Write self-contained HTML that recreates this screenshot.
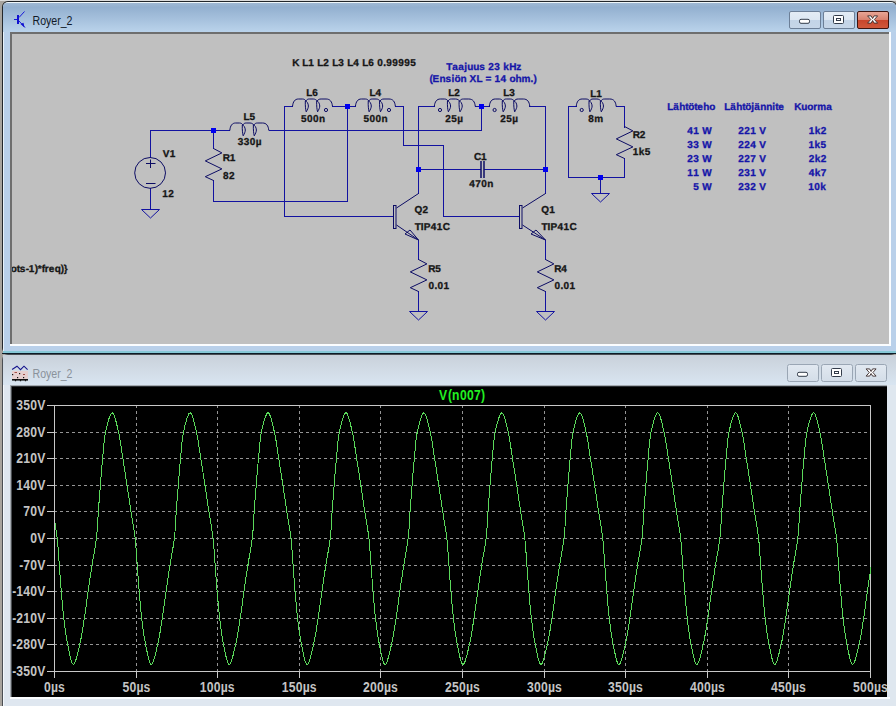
<!DOCTYPE html>
<html><head><meta charset="utf-8"><style>html,body{margin:0;padding:0;background:#a8a49e;}svg{display:block;}</style></head>
<body><svg width="896" height="706" viewBox="0 0 896 706">

<defs>
 <linearGradient id="tg1" gradientUnits="userSpaceOnUse" x1="0" y1="3" x2="0" y2="32">
  <stop offset="0" stop-color="#9fb8d4"/>
  <stop offset="0.15" stop-color="#93b0d0"/>
  <stop offset="1" stop-color="#bad3eb"/>
 </linearGradient>
 <linearGradient id="tg2" gradientUnits="userSpaceOnUse" x1="0" y1="355" x2="0" y2="385">
  <stop offset="0" stop-color="#c9d1da"/>
  <stop offset="1" stop-color="#d9e5f1"/>
 </linearGradient>
 <linearGradient id="bgrad" x1="0" y1="0" x2="0" y2="1">
  <stop offset="0" stop-color="#e4ecf5"/>
  <stop offset="0.5" stop-color="#dce7f2"/>
  <stop offset="0.5" stop-color="#c3d4e7"/>
  <stop offset="1" stop-color="#c6d6e8"/>
 </linearGradient>
 <linearGradient id="cgrad" x1="0" y1="0" x2="0" y2="1">
  <stop offset="0" stop-color="#e9a798"/>
  <stop offset="0.5" stop-color="#d8806d"/>
  <stop offset="0.5" stop-color="#c8442b"/>
  <stop offset="1" stop-color="#d0593c"/>
 </linearGradient>
 <linearGradient id="bgrad2" x1="0" y1="0" x2="0" y2="1">
  <stop offset="0" stop-color="#e2e9f1"/>
  <stop offset="1" stop-color="#d3dde8"/>
 </linearGradient>
</defs>
<rect x="0" y="0" width="896" height="706" fill="#a8a49e"/><rect x="0" y="0" width="896" height="1" fill="#dcdcdc"/>
<!-- top window -->
<rect x="2" y="1" width="895" height="353" rx="6" fill="#23272c"/>
<rect x="3" y="2" width="893" height="351" rx="5" fill="#eef6fa"/>
<rect x="3" y="3" width="893" height="350" rx="4" fill="url(#tg1)"/>
<rect x="3" y="32" width="893" height="321" fill="#b9d0ea"/>
<rect x="10" y="32" width="881" height="314" fill="#fbfdff"/>
<rect x="10" y="32" width="879" height="312" fill="#6e6e6e"/>
<rect x="12" y="34" width="877" height="310" fill="#c0c0c0"/>
<rect x="3" y="32" width="1" height="320" fill="#e8f2fa"/>
<rect x="3" y="351" width="893" height="2" fill="#86c8d6"/>
<rect x="2" y="353" width="894" height="1" fill="#0d1b26"/>
<!-- bottom window -->
<rect x="2" y="354" width="895" height="360" rx="6" fill="#4a4e53"/>
<rect x="3" y="355" width="893" height="360" rx="5" fill="#dfe7ef"/>
<rect x="3" y="355" width="900" height="30" fill="url(#tg2)"/>
<rect x="3" y="385" width="884" height="321" fill="#dfe7f0"/>
<rect x="10" y="385" width="877" height="312" fill="#a4aab0"/>
<rect x="11" y="386" width="876" height="311" fill="#4a4e52"/>
<rect x="12" y="386" width="875" height="311" fill="#2a2e32"/>
<rect x="12" y="387" width="875" height="310" fill="#000"/>
<rect x="3" y="385" width="1" height="321" fill="#f4f8fc"/>
<rect x="10" y="697" width="880" height="2" fill="#fbfdff"/>
<text x="32.5" y="25" font-family="Liberation Sans" font-size="12" fill="#111a28" textLength="40" lengthAdjust="spacingAndGlyphs">Royer_2</text><text x="32.5" y="378" font-family="Liberation Sans" font-size="12" fill="#8a929b" textLength="40" lengthAdjust="spacingAndGlyphs">Royer_2</text><g><path d="M14,19.5H17" stroke="#1818d8" stroke-width="1"/><rect x="17" y="15" width="2" height="9" fill="#1010d0"/><path d="M19,17.5 L24.5,11.5" stroke="#1818d8" stroke-width="1"/><path d="M19,21 L25,27.5" stroke="#1818d8" stroke-width="1"/><path d="M20.5,24 L24.5,27.5 L23.5,22.8 Z" fill="#1010d0"/></g><g><rect x="12" y="371" width="16" height="8" fill="#e6cfcf"/><path d="M12.1,369.5 L17,366.2 L20.5,369.7 L24,366.2 L27.6,369.7" stroke="#14148c" stroke-width="1.1" fill="none"/><path d="M14.5,372.5h2.5M23,374.5h2" stroke="#a0504a" stroke-width="1"/><g fill="#111"><rect x="12" y="374" width="1.2" height="1.2"/><rect x="17" y="377" width="1.2" height="1.2"/><rect x="23" y="377" width="1.2" height="1.2"/><rect x="19" y="373" width="1.2" height="1.2"/></g><rect x="12" y="379" width="16" height="1.6" fill="#111"/><path d="M15.5,380v1.2M20.5,380v1.2M25.5,380v1.2" stroke="#111" stroke-width="1.2"/></g><rect x="789.5" y="11.5" width="31" height="17" rx="1.5" fill="url(#bgrad)" stroke="#6c7f97"/><rect x="823.5" y="11.5" width="31" height="17" rx="1.5" fill="url(#bgrad)" stroke="#6c7f97"/><rect x="857.5" y="11.5" width="31" height="17" rx="1.5" fill="url(#cgrad)" stroke="#3d1410"/><rect x="787.5" y="364.5" width="31" height="17" rx="2" fill="url(#bgrad2)" stroke="#9aa6b4"/><rect x="821.5" y="364.5" width="31" height="17" rx="2" fill="url(#bgrad2)" stroke="#9aa6b4"/><rect x="855.5" y="364.5" width="31" height="17" rx="2" fill="url(#bgrad2)" stroke="#9aa6b4"/><rect x="799.5" y="19.3" width="10" height="4" rx="1.5" fill="#fff" stroke="#333c4a"/><rect x="833.5" y="15.5" width="10" height="8" rx="1" fill="#fff" stroke="#333c4a"/><rect x="836.5" y="18.5" width="4" height="2" fill="#fff" stroke="#333c4a"/><polygon points="867.60,15.90 871.10,15.90 872.60,18.50 874.10,15.90 877.60,15.90 874.40,19.50 877.60,23.10 874.10,23.10 872.60,20.50 871.10,23.10 867.60,23.10 870.80,19.50" fill="#fff" stroke="#3a2a2a" stroke-width="0.9" stroke-linejoin="miter"/><rect x="797.5" y="372.3" width="10" height="4" rx="1.5" fill="#fff" stroke="#333c4a"/><rect x="831.5" y="368.5" width="10" height="8" rx="1" fill="#fff" stroke="#333c4a"/><rect x="834.5" y="371.5" width="4" height="2" fill="#fff" stroke="#333c4a"/><polygon points="866.10,368.90 869.60,368.90 871.10,371.50 872.60,368.90 876.10,368.90 872.90,372.50 876.10,376.10 872.60,376.10 871.10,373.50 869.60,376.10 866.10,376.10 869.30,372.50" fill="#fff" stroke="#3a2a2a" stroke-width="0.9" stroke-linejoin="miter"/><svg x="12" y="34" width="877" height="310" viewBox="12 34 877 310" overflow="hidden"><g font-family="Liberation Sans" font-weight="bold" text-rendering="geometricPrecision"><line x1="150.5" y1="130" x2="150.5" y2="158" stroke="#1212a0" stroke-width="1"/><line x1="150.5" y1="188" x2="150.5" y2="210" stroke="#1212a0" stroke-width="1"/><line x1="150" y1="130.5" x2="230" y2="130.5" stroke="#1212a0" stroke-width="1"/><line x1="213.5" y1="130" x2="213.5" y2="149" stroke="#1212a0" stroke-width="1"/><line x1="213.5" y1="180" x2="213.5" y2="201" stroke="#1212a0" stroke-width="1"/><line x1="269" y1="130.5" x2="482" y2="130.5" stroke="#1212a0" stroke-width="1"/><line x1="213" y1="201.5" x2="348" y2="201.5" stroke="#1212a0" stroke-width="1"/><line x1="347.5" y1="106" x2="347.5" y2="201" stroke="#1212a0" stroke-width="1"/><line x1="284.5" y1="106" x2="284.5" y2="217" stroke="#1212a0" stroke-width="1"/><line x1="284" y1="106.5" x2="293" y2="106.5" stroke="#1212a0" stroke-width="1"/><line x1="284" y1="216.5" x2="394" y2="216.5" stroke="#1212a0" stroke-width="1"/><line x1="332" y1="106.5" x2="356" y2="106.5" stroke="#1212a0" stroke-width="1"/><line x1="395" y1="106.5" x2="404" y2="106.5" stroke="#1212a0" stroke-width="1"/><line x1="403.5" y1="106" x2="403.5" y2="145" stroke="#1212a0" stroke-width="1"/><line x1="403" y1="145.5" x2="444" y2="145.5" stroke="#1212a0" stroke-width="1"/><line x1="443.5" y1="145" x2="443.5" y2="217" stroke="#1212a0" stroke-width="1"/><line x1="443" y1="216.5" x2="520" y2="216.5" stroke="#1212a0" stroke-width="1"/><line x1="418.5" y1="106" x2="418.5" y2="194" stroke="#1212a0" stroke-width="1"/><line x1="418" y1="106.5" x2="435" y2="106.5" stroke="#1212a0" stroke-width="1"/><line x1="475" y1="106.5" x2="490" y2="106.5" stroke="#1212a0" stroke-width="1"/><line x1="481.5" y1="106" x2="481.5" y2="131" stroke="#1212a0" stroke-width="1"/><line x1="529" y1="106.5" x2="546" y2="106.5" stroke="#1212a0" stroke-width="1"/><line x1="545.5" y1="106" x2="545.5" y2="194" stroke="#1212a0" stroke-width="1"/><line x1="418" y1="169.5" x2="481" y2="169.5" stroke="#1212a0" stroke-width="1"/><line x1="484" y1="169.5" x2="546" y2="169.5" stroke="#1212a0" stroke-width="1"/><line x1="481" y1="161" x2="481" y2="178" stroke="#0c0c64" stroke-width="1.5"/><line x1="484" y1="161" x2="484" y2="178" stroke="#0c0c64" stroke-width="1.5"/><line x1="418.5" y1="240" x2="418.5" y2="260" stroke="#1212a0" stroke-width="1"/><line x1="418.5" y1="291" x2="418.5" y2="312" stroke="#1212a0" stroke-width="1"/><line x1="545.5" y1="240" x2="545.5" y2="260" stroke="#1212a0" stroke-width="1"/><line x1="545.5" y1="291" x2="545.5" y2="312" stroke="#1212a0" stroke-width="1"/><line x1="568.5" y1="106" x2="568.5" y2="178" stroke="#1212a0" stroke-width="1"/><line x1="568" y1="177.5" x2="625" y2="177.5" stroke="#1212a0" stroke-width="1"/><line x1="624.5" y1="106" x2="624.5" y2="128" stroke="#1212a0" stroke-width="1"/><line x1="624.5" y1="158" x2="624.5" y2="178" stroke="#1212a0" stroke-width="1"/><line x1="568" y1="106.5" x2="577" y2="106.5" stroke="#1212a0" stroke-width="1"/><line x1="616" y1="106.5" x2="625" y2="106.5" stroke="#1212a0" stroke-width="1"/><line x1="600.5" y1="177" x2="600.5" y2="194" stroke="#1212a0" stroke-width="1"/><circle cx="150.1" cy="172.9" r="15.4" fill="none" stroke="#0c0c64" stroke-width="1"/><line x1="146" y1="163.5" x2="155.5" y2="163.5" stroke="#0c0c64" stroke-width="1"/><line x1="150.5" y1="159.5" x2="150.5" y2="168" stroke="#0c0c64" stroke-width="1"/><line x1="146" y1="183.5" x2="155.5" y2="183.5" stroke="#0c0c64" stroke-width="1"/><path d="M141.5,209.5 H159.5 L150.5,218 Z" fill="none" stroke="#1212a0" stroke-width="1"/><polyline fill="none" stroke="#0c0c64" stroke-width="1" points="213.5,148.5 221.9,152.9 205.3,160.9 221.9,168.9 205.3,176.7 213.5,180.5"/><path d="M229.80,130.50 C230.28,125.50 232.21,123.00 235.58,123.00 L239.43,123.00 C241.36,123.00 242.32,124.00 242.80,125.00 M242.80,125.00 C243.76,123.50 244.73,123.00 246.17,123.00 L250.02,123.00 C251.95,123.00 252.91,124.00 253.87,125.00 M253.87,125.00 C254.84,123.50 255.80,123.00 257.73,123.00 L262.54,123.00 C266.39,123.00 268.32,125.50 268.80,130.50" fill="none" stroke="#0c0c64" stroke-width="1"/><path d="M242.32,125.00 C242.13,129.50 242.51,133.50 243.19,135.80 C244.24,134.00 245.40,131.50 245.30,130.00 C245.21,127.50 243.76,125.00 242.32,125.00 Z" fill="none" stroke="#0c0c64" stroke-width="1"/><path d="M253.39,125.00 C253.20,129.50 253.59,133.50 254.26,135.80 C255.32,134.00 256.47,131.50 256.38,130.00 C256.28,127.50 254.84,125.00 253.39,125.00 Z" fill="none" stroke="#0c0c64" stroke-width="1"/><path d="M292.50,106.50 C292.99,101.50 294.97,99.00 298.43,99.00 L302.38,99.00 C304.35,99.00 305.34,100.00 305.83,101.00 M305.83,101.00 C306.82,99.50 307.81,99.00 309.29,99.00 L313.24,99.00 C315.22,99.00 316.20,100.00 317.19,101.00 M317.19,101.00 C318.18,99.50 319.17,99.00 321.14,99.00 L326.08,99.00 C330.03,99.00 332.01,101.50 332.50,106.50" fill="none" stroke="#0c0c64" stroke-width="1"/><path d="M305.34,101.00 C305.14,105.50 305.54,109.50 306.23,111.80 C307.31,110.00 308.50,107.50 308.40,106.00 C308.30,103.50 306.82,101.00 305.34,101.00 Z" fill="none" stroke="#0c0c64" stroke-width="1"/><path d="M316.70,101.00 C316.50,105.50 316.90,109.50 317.59,111.80 C318.67,110.00 319.86,107.50 319.76,106.00 C319.66,103.50 318.18,101.00 316.70,101.00 Z" fill="none" stroke="#0c0c64" stroke-width="1"/><circle cx="326.0" cy="110.0" r="1.6" fill="none" stroke="#0c0c64" stroke-width="1"/><path d="M355.40,106.50 C355.89,101.50 357.87,99.00 361.33,99.00 L365.28,99.00 C367.25,99.00 368.24,100.00 368.73,101.00 M368.73,101.00 C369.72,99.50 370.71,99.00 372.19,99.00 L376.14,99.00 C378.12,99.00 379.10,100.00 380.09,101.00 M380.09,101.00 C381.08,99.50 382.07,99.00 384.04,99.00 L388.98,99.00 C392.93,99.00 394.91,101.50 395.40,106.50" fill="none" stroke="#0c0c64" stroke-width="1"/><path d="M368.24,101.00 C368.04,105.50 368.44,109.50 369.13,111.80 C370.21,110.00 371.40,107.50 371.30,106.00 C371.20,103.50 369.72,101.00 368.24,101.00 Z" fill="none" stroke="#0c0c64" stroke-width="1"/><path d="M379.60,101.00 C379.40,105.50 379.80,109.50 380.49,111.80 C381.57,110.00 382.76,107.50 382.66,106.00 C382.56,103.50 381.08,101.00 379.60,101.00 Z" fill="none" stroke="#0c0c64" stroke-width="1"/><circle cx="389.0" cy="110.0" r="1.6" fill="none" stroke="#0c0c64" stroke-width="1"/><path d="M434.30,106.50 C434.81,101.50 436.83,99.00 440.37,99.00 L444.42,99.00 C446.45,99.00 447.46,100.00 447.97,101.00 M447.97,101.00 C448.98,99.50 449.99,99.00 451.51,99.00 L455.56,99.00 C457.58,99.00 458.60,100.00 459.61,101.00 M459.61,101.00 C460.62,99.50 461.63,99.00 463.66,99.00 L468.72,99.00 C472.77,99.00 474.79,101.50 475.30,106.50" fill="none" stroke="#0c0c64" stroke-width="1"/><path d="M447.46,101.00 C447.26,105.50 447.66,109.50 448.37,111.80 C449.49,110.00 450.70,107.50 450.60,106.00 C450.50,103.50 448.98,101.00 447.46,101.00 Z" fill="none" stroke="#0c0c64" stroke-width="1"/><path d="M459.10,101.00 C458.90,105.50 459.30,109.50 460.01,111.80 C461.13,110.00 462.34,107.50 462.24,106.00 C462.14,103.50 460.62,101.00 459.10,101.00 Z" fill="none" stroke="#0c0c64" stroke-width="1"/><circle cx="440.0" cy="110.0" r="1.6" fill="none" stroke="#0c0c64" stroke-width="1"/><path d="M489.30,106.50 C489.80,101.50 491.80,99.00 495.30,99.00 L499.30,99.00 C501.30,99.00 502.30,100.00 502.80,101.00 M502.80,101.00 C503.80,99.50 504.80,99.00 506.30,99.00 L510.30,99.00 C512.30,99.00 513.30,100.00 514.30,101.00 M514.30,101.00 C515.30,99.50 516.30,99.00 518.30,99.00 L523.30,99.00 C527.30,99.00 529.30,101.50 529.80,106.50" fill="none" stroke="#0c0c64" stroke-width="1"/><path d="M502.30,101.00 C502.10,105.50 502.50,109.50 503.20,111.80 C504.30,110.00 505.50,107.50 505.40,106.00 C505.30,103.50 503.80,101.00 502.30,101.00 Z" fill="none" stroke="#0c0c64" stroke-width="1"/><path d="M513.80,101.00 C513.60,105.50 514.00,109.50 514.70,111.80 C515.80,110.00 517.00,107.50 516.90,106.00 C516.80,103.50 515.30,101.00 513.80,101.00 Z" fill="none" stroke="#0c0c64" stroke-width="1"/><circle cx="494.6" cy="110.0" r="1.6" fill="none" stroke="#0c0c64" stroke-width="1"/><path d="M576.20,106.50 C576.69,101.50 578.67,99.00 582.13,99.00 L586.08,99.00 C588.05,99.00 589.04,100.00 589.53,101.00 M589.53,101.00 C590.52,99.50 591.51,99.00 592.99,99.00 L596.94,99.00 C598.92,99.00 599.90,100.00 600.89,101.00 M600.89,101.00 C601.88,99.50 602.87,99.00 604.84,99.00 L609.78,99.00 C613.73,99.00 615.71,101.50 616.20,106.50" fill="none" stroke="#0c0c64" stroke-width="1"/><path d="M589.04,101.00 C588.84,105.50 589.24,109.50 589.93,111.80 C591.01,110.00 592.20,107.50 592.10,106.00 C592.00,103.50 590.52,101.00 589.04,101.00 Z" fill="none" stroke="#0c0c64" stroke-width="1"/><path d="M600.40,101.00 C600.20,105.50 600.60,109.50 601.29,111.80 C602.37,110.00 603.56,107.50 603.46,106.00 C603.36,103.50 601.88,101.00 600.40,101.00 Z" fill="none" stroke="#0c0c64" stroke-width="1"/><circle cx="581.7" cy="110.0" r="1.6" fill="none" stroke="#0c0c64" stroke-width="1"/><rect x="393.5" y="205.5" width="2.5" height="23" fill="none" stroke="#0c0c64" stroke-width="1"/><line x1="396.5" y1="208" x2="418.5" y2="193.5" stroke="#0c0c64" stroke-width="1"/><line x1="396.5" y1="225" x2="418.5" y2="240" stroke="#0c0c64" stroke-width="1"/><path d="M418.5,240 L405,234 L410,230 Z" fill="none" stroke="#0c0c64" stroke-width="1"/><line x1="393" y1="216.5" x2="393" y2="216.5" stroke="#1212a0" stroke-width="1"/><rect x="519.5" y="205.5" width="2.5" height="23" fill="none" stroke="#0c0c64" stroke-width="1"/><line x1="522.5" y1="208" x2="545.5" y2="193.5" stroke="#0c0c64" stroke-width="1"/><line x1="522.5" y1="225" x2="545.5" y2="240" stroke="#0c0c64" stroke-width="1"/><path d="M545.5,240 L531,234 L536,230 Z" fill="none" stroke="#0c0c64" stroke-width="1"/><line x1="519" y1="216.5" x2="519" y2="216.5" stroke="#1212a0" stroke-width="1"/><polyline fill="none" stroke="#0c0c64" stroke-width="1" points="418.5,259.5 426.9,263.9 410.3,271.9 426.9,279.9 410.3,287.7 418.5,291.5"/><polyline fill="none" stroke="#0c0c64" stroke-width="1" points="545.5,259.5 553.9,263.9 537.3,271.9 553.9,279.9 537.3,287.7 545.5,291.5"/><polyline fill="none" stroke="#0c0c64" stroke-width="1" points="624.5,126.5 632.9,130.9 616.3,138.9 632.9,146.9 616.3,154.7 624.5,158.5"/><path d="M409.5,311.5 H427.5 L418.5,320 Z" fill="none" stroke="#1212a0" stroke-width="1"/><path d="M536.5,311.5 H554.5 L545.5,320 Z" fill="none" stroke="#1212a0" stroke-width="1"/><path d="M591.5,193.5 H609.5 L600.5,202 Z" fill="none" stroke="#1212a0" stroke-width="1"/><rect x="211" y="128" width="5" height="5" fill="#0000f0"/><rect x="345" y="104" width="5" height="5" fill="#0000f0"/><rect x="479" y="104" width="5" height="5" fill="#0000f0"/><rect x="416" y="167" width="5" height="5" fill="#0000f0"/><rect x="543" y="167" width="5" height="5" fill="#0000f0"/><rect x="598" y="175" width="5" height="5" fill="#0000f0"/><text x="292.23 299.23 302.23 308.23 314.23 317.23 323.23 329.23 332.23 338.23 344.23 347.23 353.23 359.23 362.23 368.23 374.23 377.23 383.23 386.23 392.23 398.23 404.23 410.23" y="66" fill="#151515" stroke="#151515" stroke-width="0.3" font-size="10.0">K L1 L2 L3 L4 L6 0.99995</text><text x="306.23 312.23" y="95.5" fill="#151515" stroke="#151515" stroke-width="0.3" font-size="10.0">L6</text><text x="300.99 306.99 312.99 318.99" y="121.5" fill="#151515" stroke="#151515" stroke-width="0.3" font-size="10.0">500n</text><text x="369.43 375.43" y="95.5" fill="#151515" stroke="#151515" stroke-width="0.3" font-size="10.0">L4</text><text x="363.59 369.59 375.59 381.59" y="121.5" fill="#151515" stroke="#151515" stroke-width="0.3" font-size="10.0">500n</text><text x="448.23 454.23" y="95.5" fill="#151515" stroke="#151515" stroke-width="0.3" font-size="10.0">L2</text><text x="445.25 451.25 457.25" y="121.5" fill="#151515" stroke="#151515" stroke-width="0.3" font-size="10.0">25µ</text><text x="503.23 509.23" y="95.5" fill="#151515" stroke="#151515" stroke-width="0.3" font-size="10.0">L3</text><text x="500.25 506.25 512.25" y="121.5" fill="#151515" stroke="#151515" stroke-width="0.3" font-size="10.0">25µ</text><text x="243.43 249.43" y="119.6" fill="#151515" stroke="#151515" stroke-width="0.3" font-size="10.0">L5</text><text x="237.87 243.87 249.87 255.87" y="144.5" fill="#151515" stroke="#151515" stroke-width="0.3" font-size="10.0">330µ</text><text x="162.83 169.83" y="156.5" fill="#151515" stroke="#151515" stroke-width="0.3" font-size="10.0">V1</text><text x="162.27 168.27" y="196.6" fill="#151515" stroke="#151515" stroke-width="0.3" font-size="10.0">12</text><text x="222.73 229.73" y="160.7" fill="#151515" stroke="#151515" stroke-width="0.3" font-size="10.0">R1</text><text x="223.08 229.08" y="179" fill="#151515" stroke="#151515" stroke-width="0.3" font-size="10.0">82</text><text x="473.99 480.99" y="159.5" fill="#151515" stroke="#151515" stroke-width="0.3" font-size="10.0">C1</text><text x="469.25 475.25 481.25 487.25" y="187" fill="#151515" stroke="#151515" stroke-width="0.3" font-size="10.0">470n</text><text x="414.49 422.49" y="213.3" fill="#151515" stroke="#151515" stroke-width="0.3" font-size="10.0">Q2</text><text x="414.79 420.79 423.79 430.79 436.79 442.79" y="230" fill="#151515" stroke="#151515" stroke-width="0.3" font-size="10.0">TIP41C</text><text x="541.19 549.19" y="213.3" fill="#151515" stroke="#151515" stroke-width="0.3" font-size="10.0">Q1</text><text x="541.49 547.49 550.49 557.49 563.49 569.49" y="230" fill="#151515" stroke="#151515" stroke-width="0.3" font-size="10.0">TIP41C</text><text x="428.23 435.23" y="272" fill="#151515" stroke="#151515" stroke-width="0.3" font-size="10.0">R5</text><text x="428.50 434.50 437.50 443.50" y="288.5" fill="#151515" stroke="#151515" stroke-width="0.3" font-size="10.0">0.01</text><text x="554.23 561.23" y="272" fill="#151515" stroke="#151515" stroke-width="0.3" font-size="10.0">R4</text><text x="554.50 560.50 563.50 569.50" y="288.5" fill="#151515" stroke="#151515" stroke-width="0.3" font-size="10.0">0.01</text><text x="590.23 596.23" y="96.5" fill="#151515" stroke="#151515" stroke-width="0.3" font-size="10.0">L1</text><text x="588.28 594.28" y="122" fill="#151515" stroke="#151515" stroke-width="0.3" font-size="10.0">8m</text><text x="632.73 639.73" y="138" fill="#151515" stroke="#151515" stroke-width="0.3" font-size="10.0">R2</text><text x="632.77 638.77 644.77" y="155" fill="#151515" stroke="#151515" stroke-width="0.3" font-size="10.0">1k5</text><text x="10.66 16.66 19.66 25.66 28.66 34.66 37.66 41.66 44.66 48.66 54.66 60.66 63.66" y="272" fill="#151515" stroke="#151515" stroke-width="0.3" font-size="10.0">ots-1)*freq)}</text><text x="446.29 452.29 458.29 464.29 467.29 473.29 479.29 485.29 488.29 494.29 500.29 503.29 509.29 516.29" y="70" fill="#1414a8" stroke="#1414a8" stroke-width="0.3" font-size="10.0">Taajuus 23 kHz</text><text x="429.60 432.60 439.60 445.60 451.60 454.60 460.60 466.60 469.60 476.60 482.60 485.60 491.60 494.60 500.60 506.60 509.60 515.60 521.60 530.60 533.60" y="82" fill="#1414a8" stroke="#1414a8" stroke-width="0.3" font-size="10.0">(Ensiön XL = 14 ohm.)</text><text x="667.23 673.23 679.23 685.23 688.23 694.23 697.23 703.23 709.23" y="110" fill="#1414a8" stroke="#1414a8" stroke-width="0.3" font-size="10.0">Lähtöteho</text><text x="724.23 730.23 736.23 742.23 745.23 751.23 754.23 760.23 766.23 772.23 775.23 778.23" y="110" fill="#1414a8" stroke="#1414a8" stroke-width="0.3" font-size="10.0">Lähtöjännite</text><text x="794.23 801.23 807.23 813.23 817.23 826.23" y="110" fill="#1414a8" stroke="#1414a8" stroke-width="0.3" font-size="10.0">Kuorma</text><text x="687.27 693.27 699.27 702.27" y="133.7" fill="#1414a8" stroke="#1414a8" stroke-width="0.3" font-size="10.0">41 W</text><text x="738.30 744.30 750.30 756.30 759.30" y="133.7" fill="#1414a8" stroke="#1414a8" stroke-width="0.3" font-size="10.0">221 V</text><text x="808.74 814.74 820.74" y="133.7" fill="#1414a8" stroke="#1414a8" stroke-width="0.3" font-size="10.0">1k2</text><text x="687.27 693.27 699.27 702.27" y="147.64999999999998" fill="#1414a8" stroke="#1414a8" stroke-width="0.3" font-size="10.0">33 W</text><text x="738.30 744.30 750.30 756.30 759.30" y="147.64999999999998" fill="#1414a8" stroke="#1414a8" stroke-width="0.3" font-size="10.0">224 V</text><text x="808.62 814.62 820.62" y="147.64999999999998" fill="#1414a8" stroke="#1414a8" stroke-width="0.3" font-size="10.0">1k5</text><text x="687.27 693.27 699.27 702.27" y="161.6" fill="#1414a8" stroke="#1414a8" stroke-width="0.3" font-size="10.0">23 W</text><text x="738.30 744.30 750.30 756.30 759.30" y="161.6" fill="#1414a8" stroke="#1414a8" stroke-width="0.3" font-size="10.0">227 V</text><text x="808.74 814.74 820.74" y="161.6" fill="#1414a8" stroke="#1414a8" stroke-width="0.3" font-size="10.0">2k2</text><text x="687.27 693.27 699.27 702.27" y="175.54999999999998" fill="#1414a8" stroke="#1414a8" stroke-width="0.3" font-size="10.0">11 W</text><text x="738.30 744.30 750.30 756.30 759.30" y="175.54999999999998" fill="#1414a8" stroke="#1414a8" stroke-width="0.3" font-size="10.0">231 V</text><text x="808.78 814.78 820.78" y="175.54999999999998" fill="#1414a8" stroke="#1414a8" stroke-width="0.3" font-size="10.0">4k7</text><text x="693.27 699.27 702.27" y="189.5" fill="#1414a8" stroke="#1414a8" stroke-width="0.3" font-size="10.0">5 W</text><text x="738.30 744.30 750.30 756.30 759.30" y="189.5" fill="#1414a8" stroke="#1414a8" stroke-width="0.3" font-size="10.0">232 V</text><text x="808.33 814.33 820.33" y="189.5" fill="#1414a8" stroke="#1414a8" stroke-width="0.3" font-size="10.0">10k</text></g></svg><g font-family="Liberation Sans" font-weight="bold" font-size="13"><line x1="55" y1="432.5" x2="870" y2="432.5" stroke="#949494" stroke-dasharray="3 3" stroke-dashoffset="1"/><line x1="55" y1="458.5" x2="870" y2="458.5" stroke="#949494" stroke-dasharray="3 3" stroke-dashoffset="1"/><line x1="55" y1="485.5" x2="870" y2="485.5" stroke="#949494" stroke-dasharray="3 3" stroke-dashoffset="1"/><line x1="55" y1="511.5" x2="870" y2="511.5" stroke="#949494" stroke-dasharray="3 3" stroke-dashoffset="1"/><line x1="55" y1="538.5" x2="870" y2="538.5" stroke="#949494" stroke-dasharray="3 3" stroke-dashoffset="1"/><line x1="55" y1="565.5" x2="870" y2="565.5" stroke="#949494" stroke-dasharray="3 3" stroke-dashoffset="1"/><line x1="55" y1="591.5" x2="870" y2="591.5" stroke="#949494" stroke-dasharray="3 3" stroke-dashoffset="1"/><line x1="55" y1="618.5" x2="870" y2="618.5" stroke="#949494" stroke-dasharray="3 3" stroke-dashoffset="1"/><line x1="55" y1="644.5" x2="870" y2="644.5" stroke="#949494" stroke-dasharray="3 3" stroke-dashoffset="1"/><line x1="136.5" y1="406" x2="136.5" y2="671" stroke="#949494" stroke-dasharray="3 3" stroke-dashoffset="1"/><line x1="217.5" y1="406" x2="217.5" y2="671" stroke="#949494" stroke-dasharray="3 3" stroke-dashoffset="1"/><line x1="299.5" y1="406" x2="299.5" y2="671" stroke="#949494" stroke-dasharray="3 3" stroke-dashoffset="1"/><line x1="380.5" y1="406" x2="380.5" y2="671" stroke="#949494" stroke-dasharray="3 3" stroke-dashoffset="1"/><line x1="462.5" y1="406" x2="462.5" y2="671" stroke="#949494" stroke-dasharray="3 3" stroke-dashoffset="1"/><line x1="544.5" y1="406" x2="544.5" y2="671" stroke="#949494" stroke-dasharray="3 3" stroke-dashoffset="1"/><line x1="625.5" y1="406" x2="625.5" y2="671" stroke="#949494" stroke-dasharray="3 3" stroke-dashoffset="1"/><line x1="707.5" y1="406" x2="707.5" y2="671" stroke="#949494" stroke-dasharray="3 3" stroke-dashoffset="1"/><line x1="788.5" y1="406" x2="788.5" y2="671" stroke="#949494" stroke-dasharray="3 3" stroke-dashoffset="1"/><rect x="54.5" y="405.5" width="816" height="266" fill="none" stroke="#c8c8c8"/><line x1="47" y1="405.5" x2="54" y2="405.5" stroke="#c8c8c8"/><line x1="47" y1="432.5" x2="54" y2="432.5" stroke="#c8c8c8"/><line x1="47" y1="458.5" x2="54" y2="458.5" stroke="#c8c8c8"/><line x1="47" y1="485.5" x2="54" y2="485.5" stroke="#c8c8c8"/><line x1="47" y1="511.5" x2="54" y2="511.5" stroke="#c8c8c8"/><line x1="47" y1="538.5" x2="54" y2="538.5" stroke="#c8c8c8"/><line x1="47" y1="565.5" x2="54" y2="565.5" stroke="#c8c8c8"/><line x1="47" y1="591.5" x2="54" y2="591.5" stroke="#c8c8c8"/><line x1="47" y1="618.5" x2="54" y2="618.5" stroke="#c8c8c8"/><line x1="47" y1="644.5" x2="54" y2="644.5" stroke="#c8c8c8"/><line x1="47" y1="671.5" x2="54" y2="671.5" stroke="#c8c8c8"/><line x1="54.5" y1="671" x2="54.5" y2="678" stroke="#c8c8c8"/><line x1="136.5" y1="671" x2="136.5" y2="678" stroke="#c8c8c8"/><line x1="217.5" y1="671" x2="217.5" y2="678" stroke="#c8c8c8"/><line x1="299.5" y1="671" x2="299.5" y2="678" stroke="#c8c8c8"/><line x1="380.5" y1="671" x2="380.5" y2="678" stroke="#c8c8c8"/><line x1="462.5" y1="671" x2="462.5" y2="678" stroke="#c8c8c8"/><line x1="544.5" y1="671" x2="544.5" y2="678" stroke="#c8c8c8"/><line x1="625.5" y1="671" x2="625.5" y2="678" stroke="#c8c8c8"/><line x1="707.5" y1="671" x2="707.5" y2="678" stroke="#c8c8c8"/><line x1="788.5" y1="671" x2="788.5" y2="678" stroke="#c8c8c8"/><line x1="870.5" y1="671" x2="870.5" y2="678" stroke="#c8c8c8"/><g transform="scale(0.84,1)"><text x="19.43 27.76 36.10 44.43" y="410.3" fill="#c4c4c4" font-size="14.5">350V</text></g><g transform="scale(0.84,1)"><text x="19.43 27.76 36.10 44.43" y="437.3" fill="#c4c4c4" font-size="14.5">280V</text></g><g transform="scale(0.84,1)"><text x="19.43 27.76 36.10 44.43" y="463.3" fill="#c4c4c4" font-size="14.5">210V</text></g><g transform="scale(0.84,1)"><text x="19.43 27.76 36.10 44.43" y="490.3" fill="#c4c4c4" font-size="14.5">140V</text></g><g transform="scale(0.84,1)"><text x="27.76 36.10 44.43" y="516.3" fill="#c4c4c4" font-size="14.5">70V</text></g><g transform="scale(0.84,1)"><text x="36.10 44.43" y="543.3" fill="#c4c4c4" font-size="14.5">0V</text></g><g transform="scale(0.84,1)"><text x="23.00 27.76 36.10 44.43" y="570.3" fill="#c4c4c4" font-size="14.5">-70V</text></g><g transform="scale(0.84,1)"><text x="14.67 19.43 27.76 36.10 44.43" y="596.3" fill="#c4c4c4" font-size="14.5">-140V</text></g><g transform="scale(0.84,1)"><text x="14.67 19.43 27.76 36.10 44.43" y="623.3" fill="#c4c4c4" font-size="14.5">-210V</text></g><g transform="scale(0.84,1)"><text x="14.67 19.43 27.76 36.10 44.43" y="649.3" fill="#c4c4c4" font-size="14.5">-280V</text></g><g transform="scale(0.84,1)"><text x="14.67 19.43 27.76 36.10 44.43" y="676.3" fill="#c4c4c4" font-size="14.5">-350V</text></g><g transform="scale(0.84,1)"><text x="52.25 60.58 68.92" y="691.6" fill="#c4c4c4" font-size="14.5">0µs</text></g><g transform="scale(0.84,1)"><text x="145.77 154.11 162.44 170.77" y="691.6" fill="#c4c4c4" font-size="14.5">50µs</text></g><g transform="scale(0.84,1)"><text x="237.79 246.12 254.45 262.79 271.12" y="691.6" fill="#c4c4c4" font-size="14.5">100µs</text></g><g transform="scale(0.84,1)"><text x="335.40 343.74 352.07 360.40 368.74" y="691.6" fill="#c4c4c4" font-size="14.5">150µs</text></g><g transform="scale(0.84,1)"><text x="432.06 440.39 448.73 457.06 465.39" y="691.6" fill="#c4c4c4" font-size="14.5">200µs</text></g><g transform="scale(0.84,1)"><text x="529.68 538.01 546.35 554.68 563.01" y="691.6" fill="#c4c4c4" font-size="14.5">250µs</text></g><g transform="scale(0.84,1)"><text x="627.38 635.71 644.05 652.38 660.71" y="691.6" fill="#c4c4c4" font-size="14.5">300µs</text></g><g transform="scale(0.84,1)"><text x="723.81 732.14 740.48 748.81 757.14" y="691.6" fill="#c4c4c4" font-size="14.5">350µs</text></g><g transform="scale(0.84,1)"><text x="821.49 829.82 838.15 846.49 854.82" y="691.6" fill="#c4c4c4" font-size="14.5">400µs</text></g><g transform="scale(0.84,1)"><text x="917.92 926.25 934.58 942.92 951.25" y="691.6" fill="#c4c4c4" font-size="14.5">450µs</text></g><g transform="scale(0.84,1)"><text x="1015.42 1023.75 1032.08 1040.42 1048.75" y="691.6" fill="#c4c4c4" font-size="14.5">500µs</text></g><g transform="scale(0.84,1)"><text x="522.75 533.46 538.23 547.75 556.08 564.42 572.75" y="400.3" fill="#22f022" font-size="14.5">V(n007)</text></g><svg x="55" y="386" width="816" height="311" viewBox="55 386 816 311" overflow="hidden"><path d="M45.58,462.45 L46.29,466.96 L46.99,471.50 L47.70,476.04 L48.39,480.55 L49.07,485.00 L49.73,489.38 L50.38,493.70 L51.02,498.00 L51.66,502.30 L52.31,506.62 L52.97,511.00 L53.68,515.44 L54.43,519.93 L55.18,524.44 L55.91,528.96 L56.59,533.49 L57.17,538.00 L57.64,542.51 L58.03,547.04 L58.36,551.56 L58.66,556.07 L58.95,560.56 L59.27,565.00 L59.60,569.38 L59.93,573.70 L60.24,578.00 L60.57,582.30 L60.91,586.62 L61.27,591.00 L61.64,595.45 L62.02,599.96 L62.41,604.50 L62.82,609.04 L63.27,613.55 L63.77,618.00 L64.30,622.45 L64.87,626.94 L65.46,631.40 L66.11,635.77 L66.81,639.99 L67.57,644.00 L68.41,648.22 L69.33,652.79 L70.30,657.21 L71.31,660.99 L72.34,663.61 L73.37,664.60 L74.44,663.61 L75.56,660.99 L76.70,657.21 L77.83,652.79 L78.89,648.22 L79.87,644.00 L80.74,639.99 L81.54,635.77 L82.29,631.40 L83.00,626.94 L83.68,622.45 L84.37,618.00 L85.04,613.55 L85.68,609.04 L86.31,604.50 L86.92,599.96 L87.54,595.45 L88.17,591.00 L88.81,586.62 L89.44,582.30 L90.08,578.00 L90.73,573.70 L91.39,569.38 L92.07,565.00 L92.80,560.56 L93.59,556.07 L94.39,551.56 L95.17,547.04 L95.88,542.51 L96.47,538.00 L96.93,533.49 L97.28,528.96 L97.57,524.44 L97.82,519.93 L98.08,515.44 L98.37,511.00 L98.69,506.62 L99.02,502.30 L99.34,498.00 L99.68,493.70 L100.02,489.38 L100.37,485.00 L100.73,480.55 L101.09,476.04 L101.46,471.50 L101.85,466.96 L102.25,462.45 L102.67,458.00 L103.08,453.53 L103.45,449.01 L103.85,444.52 L104.30,440.13 L104.86,435.93 L105.57,432.00 L106.46,427.95 L107.52,423.64 L108.67,419.52 L109.88,416.03 L111.07,413.61 L112.20,412.70 L113.29,413.61 L114.40,416.03 L115.50,419.52 L116.56,423.64 L117.57,427.95 L118.50,432.00 L119.33,435.93 L120.09,440.13 L120.78,444.52 L121.45,449.01 L122.11,453.53 L122.80,458.00 L123.51,462.45 L124.22,466.96 L124.92,471.50 L125.63,476.04 L126.32,480.55 L127.00,485.00 L127.66,489.38 L128.31,493.70 L128.95,498.00 L129.59,502.30 L130.24,506.62 L130.90,511.00 L131.61,515.44 L132.36,519.93 L133.11,524.44 L133.84,528.96 L134.52,533.49 L135.10,538.00 L135.57,542.51 L135.96,547.04 L136.29,551.56 L136.59,556.07 L136.88,560.56 L137.20,565.00 L137.53,569.38 L137.86,573.70 L138.17,578.00 L138.50,582.30 L138.84,586.62 L139.20,591.00 L139.57,595.45 L139.95,599.96 L140.34,604.50 L140.75,609.04 L141.20,613.55 L141.70,618.00 L142.23,622.45 L142.80,626.94 L143.39,631.40 L144.04,635.77 L144.74,639.99 L145.50,644.00 L146.34,648.22 L147.26,652.79 L148.23,657.21 L149.24,660.99 L150.27,663.61 L151.30,664.60 L152.37,663.61 L153.49,660.99 L154.63,657.21 L155.76,652.79 L156.82,648.22 L157.80,644.00 L158.67,639.99 L159.47,635.77 L160.22,631.40 L160.93,626.94 L161.61,622.45 L162.30,618.00 L162.97,613.55 L163.61,609.04 L164.24,604.50 L164.85,599.96 L165.47,595.45 L166.10,591.00 L166.74,586.62 L167.37,582.30 L168.01,578.00 L168.66,573.70 L169.32,569.38 L170.00,565.00 L170.73,560.56 L171.52,556.07 L172.32,551.56 L173.10,547.04 L173.81,542.51 L174.40,538.00 L174.86,533.49 L175.21,528.96 L175.50,524.44 L175.75,519.93 L176.01,515.44 L176.30,511.00 L176.62,506.62 L176.95,502.30 L177.27,498.00 L177.61,493.70 L177.95,489.38 L178.30,485.00 L178.66,480.55 L179.02,476.04 L179.39,471.50 L179.78,466.96 L180.18,462.45 L180.60,458.00 L181.01,453.53 L181.38,449.01 L181.78,444.52 L182.23,440.13 L182.79,435.93 L183.50,432.00 L184.39,427.95 L185.45,423.64 L186.60,419.52 L187.81,416.03 L189.00,413.61 L190.13,412.70 L191.22,413.61 L192.33,416.03 L193.43,419.52 L194.49,423.64 L195.50,427.95 L196.43,432.00 L197.26,435.93 L198.02,440.13 L198.71,444.52 L199.38,449.01 L200.04,453.53 L200.73,458.00 L201.44,462.45 L202.15,466.96 L202.86,471.50 L203.56,476.04 L204.25,480.55 L204.93,485.00 L205.59,489.38 L206.24,493.70 L206.88,498.00 L207.52,502.30 L208.17,506.62 L208.83,511.00 L209.54,515.44 L210.29,519.93 L211.04,524.44 L211.77,528.96 L212.45,533.49 L213.03,538.00 L213.50,542.51 L213.89,547.04 L214.22,551.56 L214.52,556.07 L214.81,560.56 L215.13,565.00 L215.46,569.38 L215.79,573.70 L216.10,578.00 L216.43,582.30 L216.77,586.62 L217.13,591.00 L217.50,595.45 L217.88,599.96 L218.27,604.50 L218.68,609.04 L219.13,613.55 L219.63,618.00 L220.16,622.45 L220.73,626.94 L221.32,631.40 L221.97,635.77 L222.67,639.99 L223.43,644.00 L224.27,648.22 L225.19,652.79 L226.16,657.21 L227.17,660.99 L228.20,663.61 L229.23,664.60 L230.30,663.61 L231.42,660.99 L232.56,657.21 L233.69,652.79 L234.75,648.22 L235.73,644.00 L236.60,639.99 L237.40,635.77 L238.15,631.40 L238.86,626.94 L239.54,622.45 L240.23,618.00 L240.90,613.55 L241.54,609.04 L242.17,604.50 L242.78,599.96 L243.40,595.45 L244.03,591.00 L244.67,586.62 L245.30,582.30 L245.94,578.00 L246.59,573.70 L247.25,569.38 L247.93,565.00 L248.66,560.56 L249.45,556.07 L250.25,551.56 L251.03,547.04 L251.74,542.51 L252.33,538.00 L252.79,533.49 L253.14,528.96 L253.43,524.44 L253.68,519.93 L253.94,515.44 L254.23,511.00 L254.55,506.62 L254.88,502.30 L255.20,498.00 L255.54,493.70 L255.88,489.38 L256.23,485.00 L256.59,480.55 L256.95,476.04 L257.32,471.50 L257.71,466.96 L258.11,462.45 L258.53,458.00 L258.94,453.53 L259.31,449.01 L259.71,444.52 L260.16,440.13 L260.72,435.93 L261.43,432.00 L262.32,427.95 L263.38,423.64 L264.53,419.52 L265.74,416.03 L266.93,413.61 L268.06,412.70 L269.15,413.61 L270.26,416.03 L271.36,419.52 L272.42,423.64 L273.43,427.95 L274.36,432.00 L275.19,435.93 L275.95,440.13 L276.64,444.52 L277.31,449.01 L277.97,453.53 L278.66,458.00 L279.37,462.45 L280.08,466.96 L280.79,471.50 L281.49,476.04 L282.18,480.55 L282.86,485.00 L283.52,489.38 L284.17,493.70 L284.81,498.00 L285.45,502.30 L286.10,506.62 L286.76,511.00 L287.47,515.44 L288.22,519.93 L288.97,524.44 L289.70,528.96 L290.38,533.49 L290.96,538.00 L291.43,542.51 L291.82,547.04 L292.15,551.56 L292.45,556.07 L292.74,560.56 L293.06,565.00 L293.39,569.38 L293.72,573.70 L294.04,578.00 L294.36,582.30 L294.70,586.62 L295.06,591.00 L295.43,595.45 L295.81,599.96 L296.20,604.50 L296.61,609.04 L297.06,613.55 L297.56,618.00 L298.09,622.45 L298.66,626.94 L299.25,631.40 L299.90,635.77 L300.60,639.99 L301.36,644.00 L302.20,648.22 L303.12,652.79 L304.09,657.21 L305.10,660.99 L306.13,663.61 L307.16,664.60 L308.23,663.61 L309.35,660.99 L310.49,657.21 L311.62,652.79 L312.68,648.22 L313.66,644.00 L314.53,639.99 L315.33,635.77 L316.08,631.40 L316.79,626.94 L317.47,622.45 L318.16,618.00 L318.83,613.55 L319.47,609.04 L320.10,604.50 L320.71,599.96 L321.33,595.45 L321.96,591.00 L322.60,586.62 L323.23,582.30 L323.87,578.00 L324.52,573.70 L325.18,569.38 L325.86,565.00 L326.59,560.56 L327.38,556.07 L328.18,551.56 L328.96,547.04 L329.67,542.51 L330.26,538.00 L330.72,533.49 L331.07,528.96 L331.36,524.44 L331.61,519.93 L331.87,515.44 L332.16,511.00 L332.48,506.62 L332.81,502.30 L333.13,498.00 L333.47,493.70 L333.81,489.38 L334.16,485.00 L334.52,480.55 L334.88,476.04 L335.25,471.50 L335.64,466.96 L336.04,462.45 L336.46,458.00 L336.87,453.53 L337.24,449.01 L337.64,444.52 L338.09,440.13 L338.65,435.93 L339.36,432.00 L340.25,427.95 L341.31,423.64 L342.46,419.52 L343.67,416.03 L344.86,413.61 L345.99,412.70 L347.08,413.61 L348.19,416.03 L349.29,419.52 L350.35,423.64 L351.36,427.95 L352.29,432.00 L353.12,435.93 L353.88,440.13 L354.57,444.52 L355.24,449.01 L355.90,453.53 L356.59,458.00 L357.30,462.45 L358.01,466.96 L358.72,471.50 L359.42,476.04 L360.11,480.55 L360.79,485.00 L361.45,489.38 L362.10,493.70 L362.74,498.00 L363.38,502.30 L364.03,506.62 L364.69,511.00 L365.40,515.44 L366.15,519.93 L366.90,524.44 L367.63,528.96 L368.31,533.49 L368.89,538.00 L369.36,542.51 L369.75,547.04 L370.08,551.56 L370.38,556.07 L370.67,560.56 L370.99,565.00 L371.32,569.38 L371.65,573.70 L371.97,578.00 L372.29,582.30 L372.63,586.62 L372.99,591.00 L373.36,595.45 L373.74,599.96 L374.13,604.50 L374.54,609.04 L374.99,613.55 L375.49,618.00 L376.02,622.45 L376.59,626.94 L377.18,631.40 L377.83,635.77 L378.53,639.99 L379.29,644.00 L380.13,648.22 L381.05,652.79 L382.02,657.21 L383.03,660.99 L384.06,663.61 L385.09,664.60 L386.16,663.61 L387.28,660.99 L388.42,657.21 L389.55,652.79 L390.61,648.22 L391.59,644.00 L392.46,639.99 L393.26,635.77 L394.01,631.40 L394.72,626.94 L395.40,622.45 L396.09,618.00 L396.76,613.55 L397.40,609.04 L398.03,604.50 L398.64,599.96 L399.26,595.45 L399.89,591.00 L400.53,586.62 L401.16,582.30 L401.80,578.00 L402.45,573.70 L403.11,569.38 L403.79,565.00 L404.52,560.56 L405.31,556.07 L406.12,551.56 L406.89,547.04 L407.60,542.51 L408.19,538.00 L408.65,533.49 L409.00,528.96 L409.29,524.44 L409.54,519.93 L409.80,515.44 L410.09,511.00 L410.41,506.62 L410.74,502.30 L411.07,498.00 L411.40,493.70 L411.74,489.38 L412.09,485.00 L412.45,480.55 L412.81,476.04 L413.18,471.50 L413.57,466.96 L413.97,462.45 L414.39,458.00 L414.80,453.53 L415.17,449.01 L415.57,444.52 L416.02,440.13 L416.58,435.93 L417.29,432.00 L418.18,427.95 L419.24,423.64 L420.39,419.52 L421.60,416.03 L422.79,413.61 L423.92,412.70 L425.01,413.61 L426.12,416.03 L427.22,419.52 L428.28,423.64 L429.29,427.95 L430.22,432.00 L431.05,435.93 L431.81,440.13 L432.50,444.52 L433.17,449.01 L433.83,453.53 L434.52,458.00 L435.23,462.45 L435.94,466.96 L436.65,471.50 L437.35,476.04 L438.04,480.55 L438.72,485.00 L439.38,489.38 L440.03,493.70 L440.67,498.00 L441.31,502.30 L441.96,506.62 L442.62,511.00 L443.33,515.44 L444.08,519.93 L444.83,524.44 L445.56,528.96 L446.24,533.49 L446.82,538.00 L447.29,542.51 L447.68,547.04 L448.01,551.56 L448.31,556.07 L448.60,560.56 L448.92,565.00 L449.25,569.38 L449.58,573.70 L449.90,578.00 L450.22,582.30 L450.56,586.62 L450.92,591.00 L451.29,595.45 L451.67,599.96 L452.06,604.50 L452.47,609.04 L452.92,613.55 L453.42,618.00 L453.95,622.45 L454.52,626.94 L455.11,631.40 L455.76,635.77 L456.46,639.99 L457.22,644.00 L458.06,648.22 L458.98,652.79 L459.95,657.21 L460.96,660.99 L461.99,663.61 L463.02,664.60 L464.09,663.61 L465.21,660.99 L466.35,657.21 L467.48,652.79 L468.54,648.22 L469.52,644.00 L470.39,639.99 L471.19,635.77 L471.94,631.40 L472.65,626.94 L473.33,622.45 L474.02,618.00 L474.69,613.55 L475.33,609.04 L475.96,604.50 L476.57,599.96 L477.19,595.45 L477.82,591.00 L478.46,586.62 L479.09,582.30 L479.73,578.00 L480.38,573.70 L481.04,569.38 L481.72,565.00 L482.45,560.56 L483.24,556.07 L484.04,551.56 L484.82,547.04 L485.53,542.51 L486.12,538.00 L486.58,533.49 L486.93,528.96 L487.22,524.44 L487.47,519.93 L487.73,515.44 L488.02,511.00 L488.34,506.62 L488.67,502.30 L489.00,498.00 L489.33,493.70 L489.67,489.38 L490.02,485.00 L490.38,480.55 L490.74,476.04 L491.11,471.50 L491.50,466.96 L491.90,462.45 L492.32,458.00 L492.73,453.53 L493.10,449.01 L493.50,444.52 L493.95,440.13 L494.51,435.93 L495.22,432.00 L496.11,427.95 L497.17,423.64 L498.32,419.52 L499.53,416.03 L500.72,413.61 L501.85,412.70 L502.94,413.61 L504.05,416.03 L505.15,419.52 L506.21,423.64 L507.22,427.95 L508.15,432.00 L508.98,435.93 L509.74,440.13 L510.43,444.52 L511.10,449.01 L511.76,453.53 L512.45,458.00 L513.16,462.45 L513.87,466.96 L514.58,471.50 L515.28,476.04 L515.97,480.55 L516.65,485.00 L517.31,489.38 L517.96,493.70 L518.60,498.00 L519.24,502.30 L519.89,506.62 L520.55,511.00 L521.26,515.44 L522.01,519.93 L522.76,524.44 L523.49,528.96 L524.17,533.49 L524.75,538.00 L525.22,542.51 L525.61,547.04 L525.94,551.56 L526.24,556.07 L526.53,560.56 L526.85,565.00 L527.18,569.38 L527.51,573.70 L527.83,578.00 L528.15,582.30 L528.49,586.62 L528.85,591.00 L529.22,595.45 L529.60,599.96 L529.99,604.50 L530.40,609.04 L530.85,613.55 L531.35,618.00 L531.88,622.45 L532.45,626.94 L533.04,631.40 L533.69,635.77 L534.39,639.99 L535.15,644.00 L535.99,648.22 L536.91,652.79 L537.88,657.21 L538.89,660.99 L539.92,663.61 L540.95,664.60 L542.02,663.61 L543.14,660.99 L544.28,657.21 L545.41,652.79 L546.47,648.22 L547.45,644.00 L548.32,639.99 L549.12,635.77 L549.87,631.40 L550.58,626.94 L551.26,622.45 L551.95,618.00 L552.62,613.55 L553.26,609.04 L553.89,604.50 L554.50,599.96 L555.12,595.45 L555.75,591.00 L556.39,586.62 L557.02,582.30 L557.66,578.00 L558.31,573.70 L558.97,569.38 L559.65,565.00 L560.38,560.56 L561.17,556.07 L561.98,551.56 L562.75,547.04 L563.46,542.51 L564.05,538.00 L564.51,533.49 L564.86,528.96 L565.15,524.44 L565.40,519.93 L565.66,515.44 L565.95,511.00 L566.27,506.62 L566.60,502.30 L566.93,498.00 L567.26,493.70 L567.60,489.38 L567.95,485.00 L568.31,480.55 L568.67,476.04 L569.04,471.50 L569.43,466.96 L569.83,462.45 L570.25,458.00 L570.66,453.53 L571.03,449.01 L571.43,444.52 L571.88,440.13 L572.44,435.93 L573.15,432.00 L574.04,427.95 L575.10,423.64 L576.25,419.52 L577.46,416.03 L578.65,413.61 L579.78,412.70 L580.87,413.61 L581.98,416.03 L583.08,419.52 L584.14,423.64 L585.15,427.95 L586.08,432.00 L586.91,435.93 L587.67,440.13 L588.36,444.52 L589.03,449.01 L589.69,453.53 L590.38,458.00 L591.09,462.45 L591.80,466.96 L592.51,471.50 L593.21,476.04 L593.90,480.55 L594.58,485.00 L595.24,489.38 L595.89,493.70 L596.53,498.00 L597.17,502.30 L597.82,506.62 L598.48,511.00 L599.19,515.44 L599.94,519.93 L600.69,524.44 L601.42,528.96 L602.10,533.49 L602.68,538.00 L603.15,542.51 L603.54,547.04 L603.87,551.56 L604.17,556.07 L604.46,560.56 L604.78,565.00 L605.11,569.38 L605.44,573.70 L605.76,578.00 L606.08,582.30 L606.42,586.62 L606.78,591.00 L607.15,595.45 L607.53,599.96 L607.92,604.50 L608.33,609.04 L608.78,613.55 L609.28,618.00 L609.81,622.45 L610.38,626.94 L610.97,631.40 L611.62,635.77 L612.32,639.99 L613.08,644.00 L613.92,648.22 L614.84,652.79 L615.81,657.21 L616.82,660.99 L617.85,663.61 L618.88,664.60 L619.95,663.61 L621.07,660.99 L622.21,657.21 L623.34,652.79 L624.40,648.22 L625.38,644.00 L626.25,639.99 L627.05,635.77 L627.80,631.40 L628.51,626.94 L629.19,622.45 L629.88,618.00 L630.55,613.55 L631.19,609.04 L631.82,604.50 L632.43,599.96 L633.05,595.45 L633.68,591.00 L634.32,586.62 L634.95,582.30 L635.59,578.00 L636.24,573.70 L636.90,569.38 L637.58,565.00 L638.31,560.56 L639.10,556.07 L639.91,551.56 L640.68,547.04 L641.39,542.51 L641.98,538.00 L642.44,533.49 L642.79,528.96 L643.08,524.44 L643.33,519.93 L643.59,515.44 L643.88,511.00 L644.20,506.62 L644.53,502.30 L644.86,498.00 L645.19,493.70 L645.53,489.38 L645.88,485.00 L646.24,480.55 L646.60,476.04 L646.97,471.50 L647.36,466.96 L647.76,462.45 L648.18,458.00 L648.59,453.53 L648.96,449.01 L649.36,444.52 L649.81,440.13 L650.37,435.93 L651.08,432.00 L651.97,427.95 L653.03,423.64 L654.18,419.52 L655.39,416.03 L656.58,413.61 L657.71,412.70 L658.80,413.61 L659.91,416.03 L661.01,419.52 L662.07,423.64 L663.08,427.95 L664.01,432.00 L664.84,435.93 L665.60,440.13 L666.29,444.52 L666.96,449.01 L667.62,453.53 L668.31,458.00 L669.02,462.45 L669.73,466.96 L670.44,471.50 L671.14,476.04 L671.83,480.55 L672.51,485.00 L673.17,489.38 L673.82,493.70 L674.46,498.00 L675.10,502.30 L675.75,506.62 L676.41,511.00 L677.12,515.44 L677.87,519.93 L678.62,524.44 L679.35,528.96 L680.03,533.49 L680.61,538.00 L681.08,542.51 L681.47,547.04 L681.80,551.56 L682.10,556.07 L682.39,560.56 L682.71,565.00 L683.04,569.38 L683.37,573.70 L683.69,578.00 L684.01,582.30 L684.35,586.62 L684.71,591.00 L685.08,595.45 L685.46,599.96 L685.85,604.50 L686.26,609.04 L686.71,613.55 L687.21,618.00 L687.74,622.45 L688.31,626.94 L688.90,631.40 L689.55,635.77 L690.25,639.99 L691.01,644.00 L691.85,648.22 L692.77,652.79 L693.74,657.21 L694.75,660.99 L695.78,663.61 L696.81,664.60 L697.88,663.61 L699.00,660.99 L700.14,657.21 L701.27,652.79 L702.33,648.22 L703.31,644.00 L704.18,639.99 L704.98,635.77 L705.73,631.40 L706.44,626.94 L707.12,622.45 L707.81,618.00 L708.48,613.55 L709.12,609.04 L709.75,604.50 L710.36,599.96 L710.98,595.45 L711.61,591.00 L712.25,586.62 L712.88,582.30 L713.52,578.00 L714.17,573.70 L714.83,569.38 L715.51,565.00 L716.24,560.56 L717.03,556.07 L717.84,551.56 L718.61,547.04 L719.32,542.51 L719.91,538.00 L720.37,533.49 L720.72,528.96 L721.01,524.44 L721.26,519.93 L721.52,515.44 L721.81,511.00 L722.13,506.62 L722.46,502.30 L722.79,498.00 L723.12,493.70 L723.46,489.38 L723.81,485.00 L724.17,480.55 L724.53,476.04 L724.90,471.50 L725.29,466.96 L725.69,462.45 L726.11,458.00 L726.52,453.53 L726.89,449.01 L727.29,444.52 L727.74,440.13 L728.30,435.93 L729.01,432.00 L729.90,427.95 L730.96,423.64 L732.11,419.52 L733.32,416.03 L734.51,413.61 L735.64,412.70 L736.73,413.61 L737.84,416.03 L738.94,419.52 L740.00,423.64 L741.01,427.95 L741.94,432.00 L742.77,435.93 L743.53,440.13 L744.22,444.52 L744.89,449.01 L745.55,453.53 L746.24,458.00 L746.95,462.45 L747.66,466.96 L748.37,471.50 L749.07,476.04 L749.76,480.55 L750.44,485.00 L751.10,489.38 L751.75,493.70 L752.39,498.00 L753.03,502.30 L753.68,506.62 L754.34,511.00 L755.05,515.44 L755.80,519.93 L756.55,524.44 L757.28,528.96 L757.96,533.49 L758.54,538.00 L759.01,542.51 L759.40,547.04 L759.73,551.56 L760.03,556.07 L760.32,560.56 L760.64,565.00 L760.97,569.38 L761.30,573.70 L761.62,578.00 L761.94,582.30 L762.28,586.62 L762.64,591.00 L763.01,595.45 L763.39,599.96 L763.78,604.50 L764.19,609.04 L764.64,613.55 L765.14,618.00 L765.67,622.45 L766.24,626.94 L766.83,631.40 L767.48,635.77 L768.18,639.99 L768.94,644.00 L769.78,648.22 L770.70,652.79 L771.67,657.21 L772.68,660.99 L773.71,663.61 L774.74,664.60 L775.81,663.61 L776.93,660.99 L778.07,657.21 L779.20,652.79 L780.26,648.22 L781.24,644.00 L782.11,639.99 L782.91,635.77 L783.66,631.40 L784.37,626.94 L785.05,622.45 L785.74,618.00 L786.41,613.55 L787.05,609.04 L787.68,604.50 L788.29,599.96 L788.91,595.45 L789.54,591.00 L790.18,586.62 L790.81,582.30 L791.45,578.00 L792.10,573.70 L792.76,569.38 L793.44,565.00 L794.17,560.56 L794.96,556.07 L795.77,551.56 L796.54,547.04 L797.25,542.51 L797.84,538.00 L798.30,533.49 L798.65,528.96 L798.94,524.44 L799.19,519.93 L799.45,515.44 L799.74,511.00 L800.06,506.62 L800.39,502.30 L800.72,498.00 L801.05,493.70 L801.39,489.38 L801.74,485.00 L802.10,480.55 L802.46,476.04 L802.83,471.50 L803.22,466.96 L803.62,462.45 L804.04,458.00 L804.45,453.53 L804.82,449.01 L805.22,444.52 L805.67,440.13 L806.23,435.93 L806.94,432.00 L807.83,427.95 L808.89,423.64 L810.04,419.52 L811.25,416.03 L812.44,413.61 L813.57,412.70 L814.66,413.61 L815.77,416.03 L816.87,419.52 L817.93,423.64 L818.94,427.95 L819.87,432.00 L820.70,435.93 L821.46,440.13 L822.15,444.52 L822.82,449.01 L823.48,453.53 L824.17,458.00 L824.88,462.45 L825.59,466.96 L826.30,471.50 L827.00,476.04 L827.69,480.55 L828.37,485.00 L829.03,489.38 L829.68,493.70 L830.32,498.00 L830.96,502.30 L831.61,506.62 L832.27,511.00 L832.98,515.44 L833.73,519.93 L834.48,524.44 L835.21,528.96 L835.89,533.49 L836.47,538.00 L836.94,542.51 L837.33,547.04 L837.66,551.56 L837.96,556.07 L838.25,560.56 L838.57,565.00 L838.90,569.38 L839.23,573.70 L839.55,578.00 L839.87,582.30 L840.21,586.62 L840.57,591.00 L840.94,595.45 L841.32,599.96 L841.71,604.50 L842.12,609.04 L842.57,613.55 L843.07,618.00 L843.60,622.45 L844.17,626.94 L844.76,631.40 L845.41,635.77 L846.11,639.99 L846.87,644.00 L847.71,648.22 L848.63,652.79 L849.60,657.21 L850.61,660.99 L851.64,663.61 L852.67,664.60 L853.74,663.61 L854.86,660.99 L856.00,657.21 L857.13,652.79 L858.19,648.22 L859.17,644.00 L860.04,639.99 L860.84,635.77 L861.59,631.40 L862.30,626.94 L862.98,622.45 L863.67,618.00 L864.34,613.55 L864.98,609.04 L865.61,604.50 L866.22,599.96 L866.84,595.45 L867.47,591.00 L868.11,586.62 L868.74,582.30 L869.38,578.00 L870.03,573.70 L870.69,569.38 L871.37,565.00 L872.10,560.56 L872.89,556.07 L873.70,551.56 L874.47,547.04 L875.18,542.51 L875.77,538.00 L876.23,533.49 L876.58,528.96 L876.87,524.44 L877.12,519.93 L877.38,515.44 L877.67,511.00 L877.99,506.62 L878.32,502.30 L878.65,498.00 L878.98,493.70 L879.32,489.38 L879.67,485.00" fill="none" stroke="#5ad85a" stroke-width="1" shape-rendering="crispEdges"/></svg></g>
</svg></body></html>
